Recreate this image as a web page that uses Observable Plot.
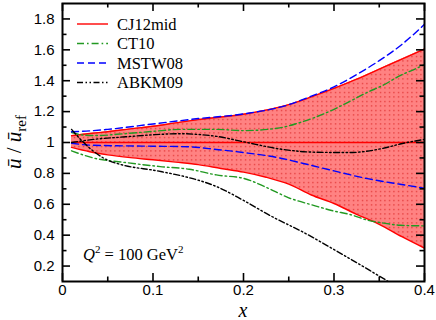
<!DOCTYPE html>
<html><head><meta charset="utf-8">
<script src="https://cdn.jsdelivr.net/npm/d3@7"></script>
<script src="https://cdn.jsdelivr.net/npm/@observablehq/plot@0.6"></script>
<style>body{margin:0;background:#fff} svg{display:block}</style>
</head><body><div id="chart"></div>
<script>
// CJ12mid band (ratio to reference)
const bandX  = [0.01, 0.03, 0.05, 0.075, 0.1, 0.125, 0.15, 0.175, 0.2, 0.225, 0.25, 0.275, 0.3, 0.325, 0.35, 0.375, 0.4];
const bandHi = [1.044, 1.058, 1.07, 1.088, 1.105, 1.127, 1.148, 1.165, 1.183, 1.21, 1.245, 1.295, 1.35, 1.41, 1.475, 1.54, 1.605];
const bandLo = [0.968, 0.94, 0.92, 0.902, 0.888, 0.873, 0.857, 0.832, 0.808, 0.775, 0.73, 0.66, 0.605, 0.535, 0.47, 0.39, 0.316];
const cjX = [0.01, 0.4];
const cjY = [1.0, 1.0];
// CT10
const ctHiX = [0.01, 0.025, 0.04, 0.06, 0.1, 0.13, 0.17, 0.2, 0.24, 0.26, 0.28, 0.3, 0.317, 0.337, 0.354, 0.373, 0.39, 0.4];
const ctHiY = [1.065, 1.047, 1.045, 1.053, 1.072, 1.085, 1.085, 1.077, 1.095, 1.125, 1.165, 1.215, 1.265, 1.325, 1.37, 1.433, 1.477, 1.505];
const ctLoX = [0.01, 0.034, 0.07, 0.108, 0.14, 0.17, 0.2, 0.225, 0.25, 0.275, 0.3, 0.317, 0.337, 0.355, 0.373, 0.4];
const ctLoY = [0.946, 0.90, 0.87, 0.844, 0.827, 0.79, 0.768, 0.71, 0.642, 0.597, 0.556, 0.535, 0.497, 0.478, 0.464, 0.46];
// MSTW08
const mstwHiX = [0.01, 0.03, 0.05, 0.1, 0.15, 0.2, 0.25, 0.275, 0.3, 0.325, 0.35, 0.375, 0.4];
const mstwHiY = [1.07, 1.075, 1.085, 1.12, 1.155, 1.185, 1.245, 1.3, 1.36, 1.44, 1.53, 1.635, 1.765];
const mstwLoX = [0.01, 0.03, 0.07, 0.1, 0.14, 0.17, 0.2, 0.24, 0.265, 0.3, 0.337, 0.373, 0.4];
const mstwLoY = [0.995, 0.983, 0.978, 0.976, 0.972, 0.955, 0.935, 0.9, 0.866, 0.816, 0.766, 0.73, 0.704];
// ABKM09
const abkmHiX = [0.01, 0.034, 0.07, 0.1, 0.13, 0.15, 0.17, 0.2, 0.24, 0.28, 0.317, 0.354, 0.373, 0.39, 0.4];
const abkmHiY = [1.0, 1.02, 1.037, 1.05, 1.057, 1.052, 1.04, 1.005, 0.958, 0.937, 0.935, 0.962, 0.99, 1.01, 1.02];
const abkmLoX = [0.01, 0.02, 0.035, 0.05, 0.064, 0.105, 0.138, 0.156, 0.17, 0.2, 0.23, 0.267, 0.303, 0.34, 0.36];
const abkmLoY = [1.085, 1.02, 0.94, 0.885, 0.858, 0.816, 0.775, 0.745, 0.715, 0.625, 0.525, 0.416, 0.297, 0.17, 0.1];

const seriesNames = ["CJ12mid", "CT10", "MSTW08", "ABKM09"];
const xMajor = [0, 0.1, 0.2, 0.3, 0.4];
const xMinor = [0.05, 0.15, 0.25, 0.35];
const yMajor = [0.2, 0.4, 0.6, 0.8, 1.0, 1.2, 1.4, 1.6, 1.8];
const yMinor = [0.3, 0.5, 0.7, 0.9, 1.1, 1.3, 1.5, 1.7];

const W = 436, H = 320, mL = 62, mR = 12, mT = 3, mB = 39;
const fw = W - mL - mR, fh = H - mT - mB;
const majL = 8, minL = 4.5;

const pts = (xs, ys) => xs.map((x, i) => ({x, y: ys[i]}));
const band = bandX.map((x, i) => ({x, lo: bandLo[i], hi: bandHi[i]}));
const fmt = d => String(+d.toFixed(1));

const styles = {
  CJ12mid: {stroke: "#ff0000", dash: null},
  CT10: {stroke: "#229922", dash: "7,3,1.6,3"},
  MSTW08: {stroke: "#0000ff", dash: "7,4"},
  ABKM09: {stroke: "#000000", dash: "6,2.5,1.5,2.5,1.5,2.5"}
};
const curve = "monotone-x";
const lineOpts = (name) => ({x: "x", y: "y", stroke: styles[name].stroke, strokeWidth: 1.4,
  strokeDasharray: styles[name].dash, curve, clip: true});

const chart = Plot.plot({
  width: W, height: H,
  marginLeft: mL, marginRight: mR, marginTop: mT, marginBottom: mB,
  style: {fontFamily: "'Liberation Sans', Arial, sans-serif", fontSize: "15px", background: "#fff", color: "#000"},
  x: {domain: [0, 0.4], axis: null},
  y: {domain: [0.1, 1.9], axis: null},
  marks: [
    Plot.areaY(band, {x: "x", y1: "lo", y2: "hi", fill: "#ff8282", curve}),
    Plot.areaY(band, {x: "x", y1: "lo", y2: "hi", fill: "#ff8282", curve, className: "dotband"}),
    Plot.lineY(pts(bandX, bandHi), {...lineOpts("CJ12mid")}),
    Plot.lineY(pts(bandX, bandLo), {...lineOpts("CJ12mid")}),
    Plot.lineY(pts(cjX, cjY), {...lineOpts("CJ12mid")}),
    Plot.lineY(pts(ctHiX, ctHiY), lineOpts("CT10")),
    Plot.lineY(pts(ctLoX, ctLoY), lineOpts("CT10")),
    Plot.lineY(pts(mstwHiX, mstwHiY), lineOpts("MSTW08")),
    Plot.lineY(pts(mstwLoX, mstwLoY), lineOpts("MSTW08")),
    Plot.lineY(pts(abkmHiX, abkmHiY), lineOpts("ABKM09")),
    Plot.lineY(pts(abkmLoX, abkmLoY), lineOpts("ABKM09")),
    // inward ticks
    Plot.ruleX(xMajor, {x: d => d, insetTop: fh - majL, strokeWidth: 1.6}),
    Plot.ruleX(xMajor, {x: d => d, insetBottom: fh - majL, strokeWidth: 1.6}),
    Plot.ruleX(xMinor, {x: d => d, insetTop: fh - minL, strokeWidth: 1.6}),
    Plot.ruleX(xMinor, {x: d => d, insetBottom: fh - minL, strokeWidth: 1.6}),
    Plot.ruleY(yMajor, {y: d => d, insetRight: fw - majL, strokeWidth: 1.6}),
    Plot.ruleY(yMajor, {y: d => d, insetLeft: fw - majL, strokeWidth: 1.6}),
    Plot.ruleY(yMinor, {y: d => d, insetRight: fw - minL, strokeWidth: 1.6}),
    Plot.ruleY(yMinor, {y: d => d, insetLeft: fw - minL, strokeWidth: 1.6}),
    Plot.frame({stroke: "#000", strokeWidth: 2}),
    Plot.axisX({ticks: xMajor, tickSize: 0, tickPadding: 3, tickFormat: fmt, label: null}),
    Plot.axisY({ticks: yMajor, tickSize: 0, tickPadding: 8, tickFormat: fmt, label: null})
  ]
});
document.getElementById("chart").appendChild(chart);

const svg = d3.select(chart);
const defs = svg.insert("defs", ":first-child");
const pat = defs.append("pattern").attr("id", "dots").attr("patternUnits", "userSpaceOnUse")
  .attr("width", 4.5).attr("height", 4.5);
pat.append("rect").attr("width", 4.5).attr("height", 4.5).attr("fill", "#ff8282");
pat.append("rect").attr("x", 2).attr("y", 2).attr("width", 1).attr("height", 1).attr("fill", "#cc0000");
svg.selectAll(".dotband path").attr("fill", "url(#dots)");

const serif = "'Liberation Serif', 'Times New Roman', serif";

// legend
const leg = svg.append("g").attr("font-family", serif).attr("font-size", 16.5).attr("text-anchor", "start");
const rows = [24, 43.5, 63, 82.5];
seriesNames.forEach((name, i) => {
  leg.append("line").attr("x1", 77).attr("x2", 108).attr("y1", rows[i]).attr("y2", rows[i])
    .attr("stroke", styles[name].stroke).attr("stroke-width", 1.4)
    .attr("stroke-dasharray", styles[name].dash);
  leg.append("text").attr("x", 117).attr("y", rows[i]).attr("dy", "0.35em").attr("text-anchor", "start").text(name);
});

// annotation
const q = svg.append("text").attr("x", 83).attr("y", 260).attr("text-anchor", "start")
  .attr("font-family", serif).attr("font-size", 16.5);
q.append("tspan").attr("font-style", "italic").text("Q");
q.append("tspan").attr("dy", -7).attr("font-size", 11).text("2");
q.append("tspan").attr("dy", 7).text(" = 100 GeV");
q.append("tspan").attr("dy", -7).attr("font-size", 11).text("2");

// x label
svg.append("text").attr("x", mL + fw / 2).attr("y", 317).attr("text-anchor", "middle")
  .attr("font-family", serif).attr("font-style", "italic").attr("font-size", 20).text("x");

// y label
const yl = svg.append("text").attr("transform", `translate(21,${mT + fh / 2}) rotate(-90)`)
  .attr("text-anchor", "middle").attr("font-family", serif).attr("font-size", 21);
yl.append("tspan").attr("font-style", "italic").text("ū");
yl.append("tspan").text(" / ");
yl.append("tspan").attr("font-style", "italic").text("ū");
yl.append("tspan").attr("dy", 5).attr("font-size", 15).text("ref");
</script>
</body></html>
